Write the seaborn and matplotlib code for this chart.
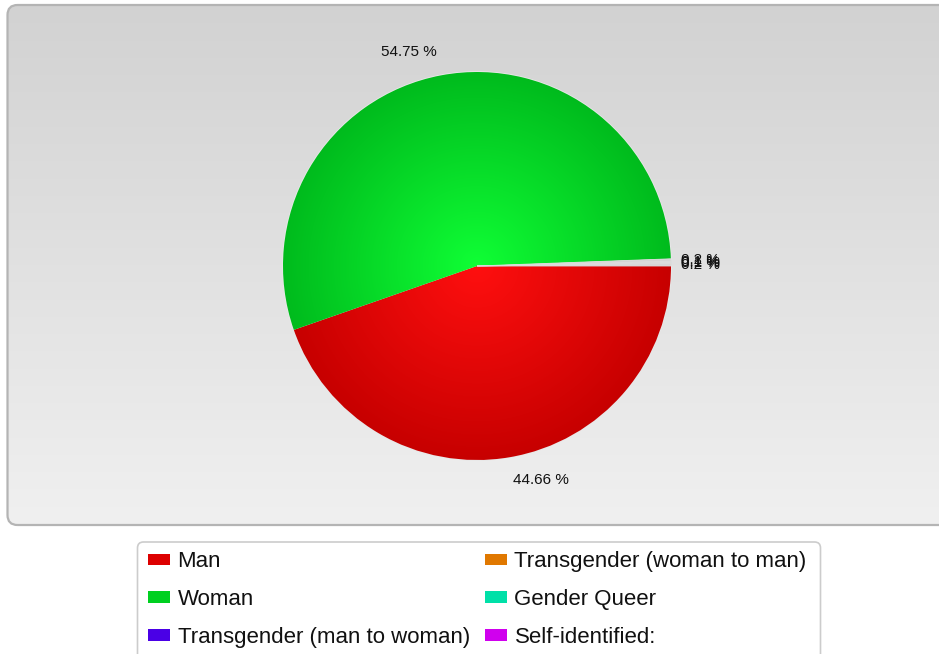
import numpy as np
import matplotlib
matplotlib.use("Agg")
import matplotlib.pyplot as plt
import seaborn as sns
from matplotlib.patches import FancyBboxPatch
from matplotlib.colors import to_rgb

# ---- data ----
categories = ["Man", "Woman", "Transgender (man to woman)",
              "Transgender (woman to man)", "Gender Queer", "Self-identified:"]
values = [44.66, 54.75, 0.2, 0.1, 0.1, 0.19]
pct_labels = ["44.66 %", "54.75 %", "0.2 %", "0.1 %", "0.1 %", "0.2 %"]
colors = ["#dd0000", "#00d020", "#4a00e6", "#e07800", "#00e0a8", "#d000ee"]

sns.set_style("white")
plt.rcParams["font.family"] = ["Liberation Sans", "DejaVu Sans"]

W, H = 939, 654
fig = plt.figure(figsize=(W / 100, H / 100), dpi=100)
ax = fig.add_axes([0, 0, 1, 1])
ax.set_xlim(0, W)
ax.set_ylim(0, H)
ax.set_aspect("equal")
ax.axis("off")

def py(y):
    return H - y

# ---- panel with vertical gradient ----
panel = FancyBboxPatch((7.5, py(525)), W + 20, 520, boxstyle="round,pad=0,rounding_size=10",
                       facecolor="none", edgecolor="#b4b4b4", lw=1.6, zorder=2)
ax.add_patch(panel)
grad = np.linspace(0, 1, 256)[:, None]
top = np.array(to_rgb("#d2d2d2"))
bot = np.array(to_rgb("#f0f0f0"))
img = top[None, None, :] * (1 - grad[..., None]) + bot[None, None, :] * grad[..., None]
im = ax.imshow(img, extent=(7.5, W + 30, py(525), py(5)), aspect="auto", zorder=1, origin="upper")
im.set_clip_path(panel)

# ---- pie ----
cx, cy, R = 477, py(266), 194
wedges, texts = ax.pie(values, labels=pct_labels, colors=colors, startangle=0, counterclock=False,
                       center=(cx, cy), radius=R, frame=True, labeldistance=1.12,
                       wedgeprops=dict(edgecolor="#e8e8e8", linewidth=1.2),
                       textprops=dict(fontsize=11, color="#111111"))
ax.set_xlim(0, W)
ax.set_ylim(0, H)
ax.axis("off")
for w in wedges:
    w.set_zorder(3)

# radial gradient overlays (lighter center) clipped to the main wedges
yy, xx = np.mgrid[-1:1:400j, -1:1:400j]
rr = np.clip(np.sqrt(xx ** 2 + yy ** 2), 0, 1)
for w, c in zip(wedges[:2], colors[:2]):
    base = np.array(to_rgb(c))
    light = np.clip(base * 1.18 + 0.06, 0, 1)
    dark = base * 0.9
    g = light[None, None, :] * (1 - rr[..., None]) + dark[None, None, :] * rr[..., None]
    gi = ax.imshow(g, extent=(cx - R, cx + R, cy - R, cy + R), zorder=3.5, origin="lower")
    gi.set_clip_path(w)
for w in wedges[2:]:
    w.set_facecolor("#d4d4d4")
    w.set_edgecolor("#dcdcdc")
    w.set_linewidth(0.6)
    w.set_zorder(4)

for i, (t, w) in enumerate(zip(texts, wedges)):
    t.set_zorder(5)
    th = np.deg2rad((w.theta1 + w.theta2) / 2)
    d = 1.12 if i < 2 else 1.05
    x = cx + d * R * np.cos(th)
    t.set_position((x, cy + d * R * np.sin(th)))
    t.set_ha("left" if x >= cx else "right")

# ---- legend ----
frame = FancyBboxPatch((137.5, py(665)), 683, 123, boxstyle="round,pad=0,rounding_size=6",
                       facecolor="white", edgecolor="#cccccc", lw=1.2, zorder=2)
ax.add_patch(frame)
leg = ax.legend(wedges, categories, ncol=2, loc="upper left",
                bbox_to_anchor=(144 / W, 1 - 547 / H), frameon=False,
                fontsize=16, handlelength=0.98, handleheight=0.41, handletextpad=0.33,
                columnspacing=0.7, labelspacing=0.75, borderpad=0.2, borderaxespad=0)
for h, c in zip(leg.legend_handles, colors):
    h.set_facecolor(c)
    h.set_edgecolor("none")
for t in leg.get_texts():
    t.set_color("#111111")

fig.savefig("out.png", dpi=100)
